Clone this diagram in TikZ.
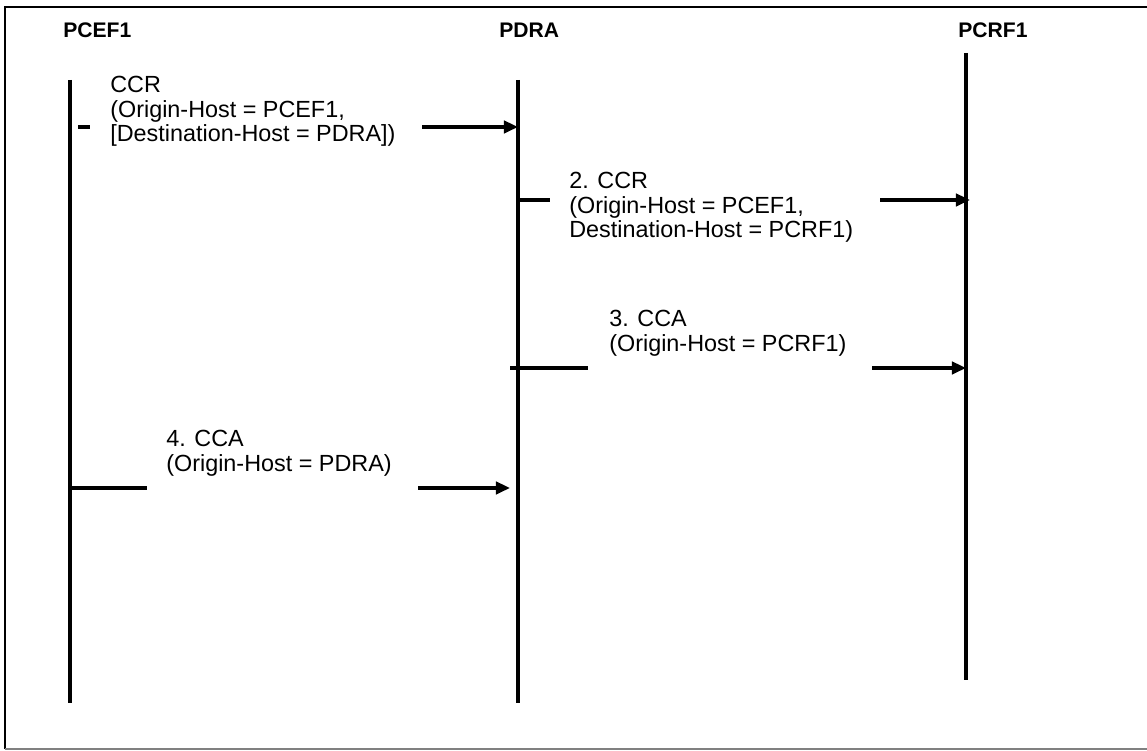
\documentclass[tikz,border=0pt]{standalone}
\usepackage{fontspec}
\setmainfont{Liberation Sans}
\usetikzlibrary{arrows.meta, positioning}

\newcommand{\msgfont}{\fontsize{13.3}{14}\selectfont\lineskiplimit=-20pt\relax}

\tikzset{
  lifeline/.style={line width=2pt},
  msgline/.style={line width=2pt},
  msgarrow/.style={line width=2pt, -{Triangle[length=8pt,width=7pt]}},
  entity/.style={font=\bfseries\fontsize{12}{14}\selectfont, anchor=west, inner sep=0pt},
  msgtext/.style={font=\msgfont, align=left, anchor=north west, inner sep=0pt},
}

\begin{document}
\begin{tikzpicture}
    \useasboundingbox (0,0) rectangle (22.94,15.02);
    % moldura
    \draw[line width=0.8pt] (23.2,14.88) -- (0.1,14.88) -- (0.1,0.04);
    \draw[line width=1pt, gray] (0.1,0.04) -- (23.2,0.04);
    % entidades
    \node[entity] (pcef) at (1.26,14.42) {PCEF1};
    \node[entity] (pdra) at (9.98,14.42) {PDRA};
    \node[entity] (pcrf) at (19.16,14.42) {PCRF1};
    % linhas de vida
    \coordinate (pcef-top) at (1.4,13.42);  \coordinate (pcef-bot) at (1.4,0.96);
    \coordinate (pdra-top) at (10.36,13.42); \coordinate (pdra-bot) at (10.36,0.96);
    \coordinate (pcrf-top) at (19.32,13.96); \coordinate (pcrf-bot) at (19.32,1.42);
    \draw[lifeline] (pcef-top) -- (pcef-bot);
    \draw[lifeline] (pdra-top) -- (pdra-bot);
    \draw[lifeline] (pcrf-top) -- (pcrf-bot);
    % 1. CCR
    \node[msgtext] (ccr1) at (2.2,13.5) {CCR\\(Origin-Host = PCEF1,\\{[}Destination-Host = PDRA])};
    \coordinate (a1) at (1.56,12.48); \coordinate (b1) at (1.8,12.48);
    \coordinate (c1) at (8.44,12.48); \coordinate (d1) at (10.36,12.48);
    \draw[msgline] (a1) -- (b1);
    \draw[msgarrow] (c1) -- (d1);
    % 2. CCR
    \node[msgtext] (ccr2) at (11.38,11.58) {2. CCR\\(Origin-Host = PCEF1,\\Destination-Host = PCRF1)};
    \coordinate (a2) at (10.36,11.02); \coordinate (b2) at (11.0,11.02);
    \coordinate (c2) at (17.6,11.02);  \coordinate (d2) at (19.4,11.02);
    \draw[msgline] (a2) -- (b2);
    \draw[msgarrow] (c2) -- (d2);
    % 3. CCA
    \node[msgtext] (cca3) at (12.18,8.82) {3. CCA\\(Origin-Host = PCRF1)};
    \coordinate (a3) at (10.2,7.66);  \coordinate (b3) at (11.76,7.66);
    \coordinate (c3) at (17.44,7.66); \coordinate (d3) at (19.32,7.66);
    \draw[msgline] (a3) -- (b3);
    \draw[msgarrow] (c3) -- (d3);
    % 4. CCA
    \node[msgtext] (cca4) at (3.32,6.42) {4. CCA\\(Origin-Host = PDRA)};
    \coordinate (a4) at (1.4,5.26);  \coordinate (b4) at (2.94,5.26);
    \coordinate (c4) at (8.36,5.26); \coordinate (d4) at (10.2,5.26);
    \draw[msgline] (a4) -- (b4);
    \draw[msgarrow] (c4) -- (d4);
\end{tikzpicture}
\end{document}
